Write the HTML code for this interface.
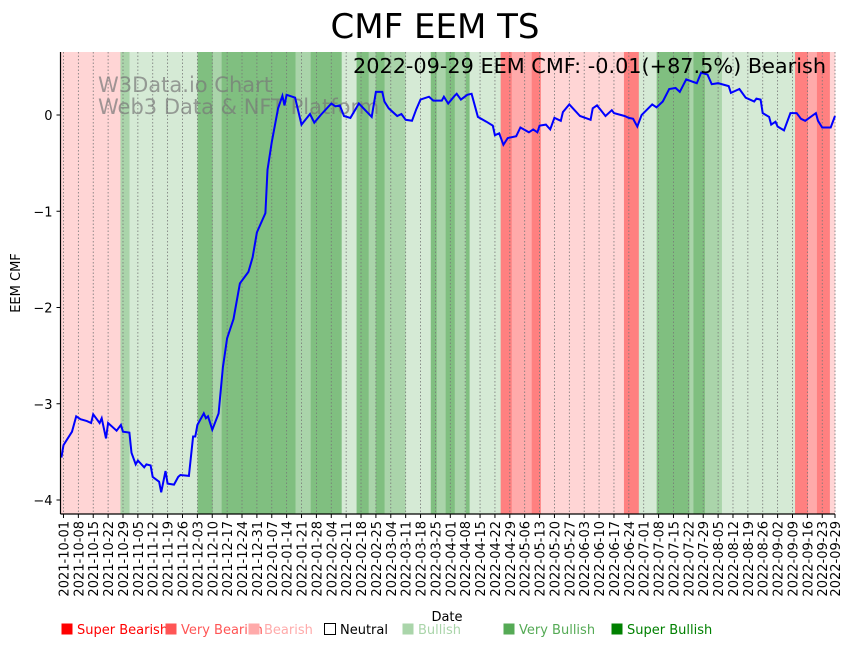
<!DOCTYPE html>
<html><head><meta charset="utf-8"><style>
body{margin:0;background:#fff;}
svg text{font-family:"DejaVu Sans","Liberation Sans",sans-serif;}
</style></head><body>
<svg id="chart" width="854" height="646" xmlns="http://www.w3.org/2000/svg">
<text x="435" y="38" font-size="34" text-anchor="middle">CMF EEM TS</text>
<g id="bands"></g>
<g id="grid"></g>
<text x="98" y="92" font-size="21" fill="#777" fill-opacity="0.7">W3Data.io Chart</text>
<text x="98" y="114" font-size="21" fill="#777" fill-opacity="0.7">Web3 Data &amp; NFT Platform</text>
<path id="line" fill="none" stroke="#0000ff" stroke-width="2"/>
<text x="826" y="73" font-size="20.5" text-anchor="end" textLength="473" lengthAdjust="spacingAndGlyphs">2022-09-29 EEM CMF: -0.01(+87.5%) Bearish</text>
<g id="axes"></g>
<text x="447" y="621" font-size="13" text-anchor="middle">Date</text>
<text x="20" y="283" font-size="13" text-anchor="middle" transform="rotate(-90 20 283)">EEM CMF</text>
<g id="legend"></g>
</svg>
<script>
const days=[-1,0,4,6,8,11,13,14,17,18,20,21,25,27,28,31,32,34,35,38,39,41,42,45,46,48,49,52,54,55,59,61,62,63,66,67,68,70,73,75,77,80,83,87,89,91,95,96,98,101,103,104,105,109,112,116,118,121,126,128,130,132,135,139,145,147,150,151,153,157,159,161,164,166,168,172,174,178,179,181,184,185,187,190,192,195,199,202,203,205,207,209,213,215,219,221,223,224,227,229,231,234,235,238,243,248,249,251,255,258,259,264,266,268,270,272,277,279,282,285,288,290,293,298,300,303,305,308,313,314,318,321,325,326,328,329,332,333,335,336,339,342,345,347,349,354,355,357,361,363];
const cmf=[-3.56,-3.43,-3.29,-3.13,-3.16,-3.18,-3.2,-3.11,-3.2,-3.15,-3.36,-3.2,-3.28,-3.22,-3.29,-3.3,-3.51,-3.63,-3.59,-3.66,-3.63,-3.64,-3.76,-3.81,-3.92,-3.70,-3.83,-3.84,-3.76,-3.74,-3.75,-3.34,-3.34,-3.22,-3.10,-3.15,-3.13,-3.27,-3.10,-2.62,-2.32,-2.12,-1.75,-1.63,-1.48,-1.22,-1.02,-0.57,-0.28,0.07,0.20,0.10,0.21,0.18,-0.10,0.01,-0.08,0.0,0.12,0.09,0.10,-0.01,-0.03,0.12,-0.02,0.24,0.24,0.14,0.07,-0.01,0.01,-0.05,-0.06,0.06,0.16,0.19,0.15,0.15,0.19,0.12,0.2,0.22,0.16,0.21,0.22,-0.02,-0.07,-0.11,-0.21,-0.19,-0.31,-0.24,-0.22,-0.13,-0.18,-0.15,-0.18,-0.11,-0.10,-0.15,-0.03,-0.06,0.03,0.11,-0.01,-0.05,0.07,0.10,-0.01,0.05,0.02,-0.01,-0.03,-0.04,-0.12,0.0,0.11,0.08,0.14,0.27,0.28,0.24,0.37,0.33,0.44,0.42,0.32,0.33,0.30,0.23,0.27,0.18,0.14,0.17,0.16,0.02,-0.02,-0.10,-0.07,-0.12,-0.16,0.02,0.02,-0.04,-0.06,0.02,-0.06,-0.13,-0.13,-0.01];
const bandStarts=[-1.4,26.8,31.1,63.1,70.2,74.4,109.2,116.3,130.9,137.9,143.6,146.9,151.1,161,172.8,175.6,179.8,184.1,189.3,191.1,194.4,205.7,210.9,220.3,224.6,263.7,270.7,279.1,294.5,296.4,301.8,309.8,344.2,350.3,354.5,360.6];
const bandLevels=['R1','G2','G1','G3','G2','G3','G2','G3','G1','G3','G2','G3','G2','G1','G3','G2','G3','G2','G3','G1','G1','R3','R2','R3','R1','R3','G1','G3','G2','G3','G2','G1','R3','R2','R3','R1'];
const yTicks=[0,-1,-2,-3,-4];
const xTickLabels=[];
const startDate=new Date(Date.UTC(2021,9,1));
for(let i=0;i<=52;i++){const d=new Date(startDate.getTime()+i*7*864e5);xTickLabels.push(d.toISOString().slice(0,10));}
xTickLabels[52]='2022-09-29';
const xTickDays=xTickLabels.map(s=>Math.round((Date.parse(s)-startDate.getTime())/864e5));
const legendLabels=['Super Bearish','Very Bearish','Bearish','Neutral','Bullish','Very Bullish','Super Bullish'];
const legendColors=['#ff0000','#ff5555','#ffaaaa','none','#aad5aa','#55aa55','#008000'];
const legendX=[61,165,248,324,402,503,611];

const L=60.5,R=835,T=52,B=514,dMin=-1.4,dMax=363;
const xs=d=>L+(d-dMin)/(dMax-dMin)*(R-L);
const ys=v=>115-v*96.25;
const NS='http://www.w3.org/2000/svg';
function mk(tag,attrs,parent){const e=document.createElementNS(NS,tag);for(const k in attrs)e.setAttribute(k,attrs[k]);parent.appendChild(e);return e;}
const colors={R3:'#ff8080',R2:'#ffaaaa',R1:'#ffd5d5',G1:'#d5ead5',G2:'#aad4aa',G3:'#80bf80'};
const bands=document.getElementById('bands');
for(let i=0;i<bandStarts.length;i++){
  const x0=xs(bandStarts[i]),x1=xs(i+1<bandStarts.length?bandStarts[i+1]:dMax);
  const r=mk('rect',{x:x0,y:T,width:x1-x0+0.3,height:B-T,fill:colors[bandLevels[i]]},bands);
  
  
}
const grid=document.getElementById('grid'),axes=document.getElementById('axes');
xTickDays.forEach((d,i)=>{
  const x=xs(d);
  const g=mk('line',{x1:x,x2:x,y1:T,y2:B,stroke:'#777','stroke-width':0.8,'stroke-dasharray':'1.5,2'},grid);
  
  
  mk('line',{x1:x,x2:x,y1:B,y2:B+4,stroke:'#000','stroke-width':1},axes);
  const t=mk('text',{x:0,y:0,'font-size':13,'text-anchor':'end',transform:`translate(${x+5},${B+7}) rotate(-90)`},axes);
  
  
  t.textContent=xTickLabels[i];
});
yTicks.forEach(v=>{
  const y=ys(v);
  mk('line',{x1:L-4,x2:L,y1:y,y2:y,stroke:'#000','stroke-width':1},axes);
  const t=mk('text',{x:L-8,y:y+5,'font-size':13,'text-anchor':'end'},axes);
  
  
  t.textContent=v===0?'0':'\u2212'+(-v);
});
mk('line',{x1:L,x2:L,y1:T,y2:B,stroke:'#000','stroke-width':1.2},axes);
mk('line',{x1:L,x2:R,y1:B,y2:B,stroke:'#000','stroke-width':1.2},axes);
document.getElementById('line').setAttribute('d',days.map((d,i)=>(i?'L':'M')+xs(d).toFixed(1)+','+ys(cmf[i]).toFixed(1)).join(''));
const leg=document.getElementById('legend');
legendLabels.forEach((lab,i)=>{
  const x=legendX[i];
  const sq=mk('rect',{x:x+0.5,y:623.5,width:11,height:11,fill:legendColors[i]==='none'?'#fff':legendColors[i],stroke:legendColors[i]==='none'?'#000':'none'},leg);
  
  
  const t=mk('text',{x:x+16,y:634,'font-size':13,fill:legendColors[i]==='none'?'#000':legendColors[i]},leg);
  
  
  t.textContent=lab;
});
</script>
</body></html>
